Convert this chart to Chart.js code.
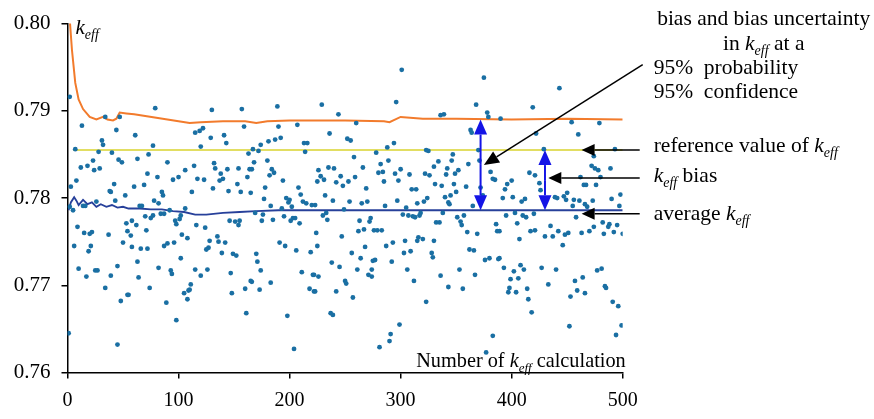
<!DOCTYPE html>
<html><head><meta charset="utf-8">
<script src="https://cdn.jsdelivr.net/npm/chart.js@4.4.0/dist/chart.umd.min.js"></script>
<style>html,body{margin:0;padding:0;background:#fff}#wrap{width:874px;height:419px}</style>
</head><body><div id="wrap"><canvas id="c" width="874" height="419"></canvas></div>
<script>
const xTicks = [0, 100, 200, 300, 400, 500];
const yTicks = [0.76, 0.77, 0.78, 0.79, 0.80];

// [number of calculation, keff]
const keffCalcs = [
[2,0.7916],[13,0.7883],[34,0.7893],[47,0.7893],[44,0.7878],[7,0.7856],[31,0.7866],[32,0.7861],[28,0.7853],[40,0.7852],[46,0.7844],[49,0.7841],[23,0.7843],[18,0.7837],[12,0.7835],[24,0.7832],[29,0.7834],[8,0.7820],[3,0.7813],[42,0.7816],[38,0.7808],[39,0.7807],[52,0.7803],[2,0.7790],[5,0.7786],[14,0.7791],[16,0.7791],[26,0.7796],[43,0.7797],[9,0.7767],[15,0.7760],[20,0.7759],[22,0.7761],[37,0.7758],[53,0.7771],[50,0.7749],[6,0.7745],[21,0.7745],[19,0.7739],[10,0.7719],[17,0.7710],[25,0.7717],[27,0.7717],[45,0.7722],[39,0.7711],[34,0.7697],[54,0.7689],[48,0.7682],[1,0.7645],[45,0.7632],
[79,0.7903],[61,0.7872],[77,0.7860],[73,0.7850],[63,0.7845],[90,0.7841],[106,0.7832],[72,0.7828],[81,0.7824],[95,0.7821],[100,0.7824],[60,0.7813],[69,0.7815],[85,0.7807],[86,0.7803],[78,0.7797],[82,0.7794],[65,0.7791],[67,0.7791],[84,0.7782],[87,0.7782],[92,0.7786],[70,0.7779],[58,0.7774],[62,0.7769],[77,0.7780],[75,0.7777],[102,0.7780],[101,0.7776],[106,0.7788],[54,0.7762],[57,0.7757],[97,0.7774],[98,0.7770],[103,0.7758],[108,0.7754],[71,0.7763],[58,0.7744],[66,0.7742],[72,0.7742],[87,0.7745],[90,0.7748],[96,0.7749],[102,0.7731],[63,0.7727],[82,0.7720],[93,0.7717],[94,0.7713],[64,0.7709],[55,0.7689],[74,0.7697],[105,0.7691],[109,0.7694],[108,0.7684],[89,0.7680],[98,0.7660],
[130,0.7901],[157,0.7902],[159,0.7882],[122,0.7880],[119,0.7877],[115,0.7875],[141,0.7872],[129,0.7869],[143,0.7863],[120,0.7859],[163,0.7851],[114,0.7837],[132,0.7840],[133,0.7834],[138,0.7828],[144,0.7833],[154,0.7834],[164,0.7833],[117,0.7822],[123,0.7821],[137,0.7820],[140,0.7822],[162,0.7824],[112,0.7807],[131,0.7811],[145,0.7808],[153,0.7816],[156,0.7807],[165,0.7806],[146,0.7774],[151,0.7773],[155,0.7774],[154,0.7769],[116,0.7769],[124,0.7766],[135,0.7756],[128,0.7751],[136,0.7750],[142,0.7749],[127,0.7743],[125,0.7741],[139,0.7737],[149,0.7736],[152,0.7734],[115,0.7718],[126,0.7718],[120,0.7711],[147,0.7714],[111,0.7701],[110,0.7695],[166,0.7704],[160,0.7696],[148,0.7691],[161,0.7668],
[189,0.7905],[190,0.7882],[207,0.7884],[192,0.7869],[187,0.7867],[181,0.7865],[174,0.7861],[167,0.7856],[172,0.7854],[213,0.7863],[216,0.7863],[214,0.7853],[168,0.7841],[180,0.7843],[184,0.7833],[186,0.7829],[166,0.7833],[182,0.7826],[194,0.7820],[178,0.7812],[208,0.7812],[210,0.7804],[197,0.7800],[200,0.7798],[199,0.7795],[202,0.7790],[212,0.7796],[215,0.7794],[220,0.7792],[177,0.7799],[183,0.7791],[193,0.7788],[195,0.7779],[169,0.7783],[176,0.7781],[175,0.7774],[185,0.7775],[201,0.7774],[203,0.7777],[205,0.7777],[209,0.7771],[191,0.7749],[196,0.7745],[206,0.7740],[219,0.7738],[170,0.7736],[171,0.7727],[174,0.7717],[211,0.7715],[221,0.7712],[165,0.7705],[183,0.7703],[173,0.7695],[218,0.7696],[222,0.7693],[198,0.7665],[204,0.7627],
[229,0.7907],[244,0.7896],[260,0.7886],[236,0.7874],[252,0.7868],[255,0.7866],[258,0.7847],[266,0.7835],[226,0.7832],[235,0.7835],[240,0.7834],[228,0.7825],[231,0.7821],[225,0.7819],[246,0.7825],[242,0.7818],[248,0.7814],[253,0.7819],[259,0.7824],[269,0.7811],[232,0.7803],[239,0.7797],[254,0.7796],[265,0.7794],[270,0.7796],[223,0.7792],[249,0.7787],[230,0.7780],[233,0.7783],[234,0.7775],[263,0.7774],[273,0.7777],[272,0.7773],[224,0.7760],[247,0.7756],[262,0.7762],[267,0.7764],[276,0.7763],[225,0.7745],[268,0.7744],[256,0.7737],[264,0.7731],[275,0.7728],[238,0.7726],[245,0.7721],[261,0.7718],[274,0.7718],[271,0.7712],[274,0.7710],[222,0.7712],[226,0.7710],[250,0.7705],[251,0.7702],[223,0.7693],[242,0.7693],[257,0.7686],[237,0.7668],[239,0.7666],
[301,0.7947],[296,0.7910],[294,0.7863],[288,0.7858],[278,0.7852],[323,0.7855],[325,0.7854],[282,0.7839],[289,0.7843],[280,0.7829],[284,0.7830],[295,0.7828],[300,0.7833],[308,0.7827],[322,0.7828],[326,0.7826],[330,0.7836],[331,0.7816],[285,0.7819],[298,0.7820],[310,0.7810],[314,0.7810],[324,0.7800],[321,0.7796],[315,0.7794],[297,0.7797],[286,0.7791],[305,0.7789],[311,0.7779],[318,0.7783],[317,0.7780],[313,0.7778],[302,0.7781],[307,0.7780],[332,0.7772],[279,0.7763],[283,0.7763],[316,0.7755],[293,0.7749],[304,0.7751],[315,0.7751],[320,0.7753],[330,0.7751],[287,0.7745],[303,0.7737],[309,0.7739],[328,0.7737],[329,0.7732],[277,0.7729],[292,0.7727],[306,0.7718],[312,0.7705],[323,0.7681],[299,0.7655],[291,0.7644],[290,0.7636],[281,0.7629],
[375,0.7938],[368,0.7907],[336,0.7895],[339,0.7896],[378,0.7898],[379,0.7893],[363,0.7878],[364,0.7875],[370,0.7855],[347,0.7850],[346,0.7843],[371,0.7843],[334,0.7842],[361,0.7839],[381,0.7830],[342,0.7834],[352,0.7832],[349,0.7828],[341,0.7827],[385,0.7821],[383,0.7822],[337,0.7814],[348,0.7816],[359,0.7813],[372,0.7812],[350,0.7807],[345,0.7803],[340,0.7801],[343,0.7795],[344,0.7793],[374,0.7803],[365,0.7791],[338,0.7783],[335,0.7772],[351,0.7778],[354,0.7773],[355,0.7769],[357,0.7780],[360,0.7761],[369,0.7759],[386,0.7770],[387,0.7762],[362,0.7741],[366,0.7740],[376,0.7729],[380,0.7731],[388,0.7730],[353,0.7718],[336,0.7711],[367,0.7712],[343,0.7698],[356,0.7696],[383,0.7642],[377,0.7623],
[443,0.7926],[419,0.7904],[390,0.7891],[422,0.7874],[429,0.7856],[416,0.7829],[400,0.7820],[396,0.7816],[394,0.7810],[392,0.7800],[401,0.7801],[409,0.7796],[412,0.7799],[421,0.7826],[425,0.7817],[439,0.7801],[441,0.7800],[426,0.7809],[410,0.7780],[413,0.7778],[420,0.7782],[403,0.7783],[395,0.7780],[405,0.7771],[417,0.7762],[421,0.7763],[435,0.7768],[389,0.7762],[442,0.7762],[407,0.7753],[430,0.7756],[437,0.7756],[389,0.7731],[393,0.7720],[402,0.7716],[411,0.7718],[408,0.7723],[427,0.7720],[440,0.7718],[399,0.7707],[406,0.7708],[398,0.7697],[414,0.7696],[397,0.7692],[404,0.7692],[433,0.7701],[415,0.7684],[418,0.7669],
[454,0.7887],[479,0.7886],[460,0.7873],[493,0.7856],[474,0.7848],[472,0.7837],[475,0.7834],[478,0.7832],[489,0.7834],[462,0.7824],[480,0.7824],[465,0.7815],[467,0.7815],[476,0.7815],[450,0.7806],[447,0.7802],[449,0.7798],[456,0.7798],[461,0.7797],[466,0.7793],[473,0.7797],[455,0.7791],[468,0.7790],[490,0.7799],[498,0.7804],[497,0.7791],[482,0.7772],[488,0.7770],[487,0.7767],[458,0.7778],[451,0.7760],[448,0.7758],[463,0.7760],[470,0.7762],[474,0.7767],[483,0.7759],[492,0.7761],[495,0.7769],[500,0.7759],[446,0.7746],[477,0.7717],[481,0.7719],[457,0.7705],[464,0.7709],[484,0.7699],[485,0.7697],[459,0.7694],[466,0.7691],[453,0.7687],[491,0.7681],[496,0.7676],[452,0.7653],[499,0.7654],[494,0.7643]
];

const upperX = [1,2,4,7,10,14,20,26,32,36,41,44,47,53,60,70,80,90,100,110,120,140,160,170,180,200,250,285,290,300,320,350,400,450,500];
const upperY = [0.8025,0.8005,0.7970,0.7932,0.7913,0.7902,0.7893,0.7890,0.7893,0.7890,0.7889,0.7891,0.7898,0.7897,0.7896,0.7894,0.7892,0.7890,0.7888,0.7886,0.7887,0.7888,0.7888,0.7886,0.7888,0.7889,0.7889,0.7888,0.7887,0.7893,0.7891,0.7891,0.7890,0.7891,0.7890];

const refX = [5, 500];
const refValue = 0.7855;

const avgX = [1,3,6,8,10,14,18,22,26,30,35,40,45,50,55,65,75,85,95,105,115,125,140,155,170,190,210,250,300,350,400,450,500];
const avgY = [0.7786,0.7795,0.7801,0.7797,0.7792,0.7798,0.7793,0.7795,0.7790,0.7793,0.7790,0.7792,0.7789,0.7790,0.7788,0.7788,0.7787,0.7787,0.7785,0.7784,0.7781,0.7781,0.7783,0.7784,0.7785,0.7786,0.7786,0.7786,0.7786,0.7786,0.7786,0.7786,0.7786];

// annotation anchors (data values)
const uncertArrow = {x: 372, top: 0.7890, bottom: 0.7786};
const biasArrow = {x: 430, top: 0.7855, bottom: 0.7786};

const SERIF = "'Liberation Serif', 'Times New Roman', serif";

function richText(ctx, parts, x, y, align, size) {
  size = size || 21;
  const sub = Math.round(size * 0.66);
  const fontOf = s => (s === 'n' ? '' : 'italic ') + (s === 's' ? sub : size) + 'px ' + SERIF;
  let total = 0;
  parts.forEach(p => { ctx.font = fontOf(p[1]); total += ctx.measureText(p[0]).width; });
  let cx = align === 'center' ? x - total / 2 : (align === 'right' ? x - total : x);
  ctx.textAlign = 'left';
  ctx.textBaseline = 'alphabetic';
  parts.forEach(p => {
    ctx.font = fontOf(p[1]);
    ctx.fillText(p[0], cx, p[1] === 's' ? y + 5 : y);
    cx += ctx.measureText(p[0]).width;
  });
}

function arrow(ctx, x1, y1, x2, y2, color, lw, hl, hw) {
  const ang = Math.atan2(y2 - y1, x2 - x1);
  const bx = x2 - hl * Math.cos(ang), by = y2 - hl * Math.sin(ang);
  ctx.strokeStyle = color; ctx.fillStyle = color; ctx.lineWidth = lw;
  ctx.beginPath(); ctx.moveTo(x1, y1); ctx.lineTo(bx, by); ctx.stroke();
  ctx.beginPath();
  ctx.moveTo(x2, y2);
  ctx.lineTo(bx + hw * Math.sin(ang), by - hw * Math.cos(ang));
  ctx.lineTo(bx - hw * Math.sin(ang), by + hw * Math.cos(ang));
  ctx.closePath(); ctx.fill();
}

function doubleArrow(ctx, x, yTop, yBot, color) {
  const mid = (yTop + yBot) / 2;
  arrow(ctx, x, mid, x, yTop, color, 2, 15, 6.5);
  arrow(ctx, x, mid, x, yBot, color, 2, 15, 6.5);
}

const annot = {
  id: 'annot',
  afterDraw(chart) {
    const {ctx, chartArea: a, scales: {x, y}} = chart;
    ctx.save();
    const blue = '#1414e6';
    doubleArrow(ctx, x.getPixelForValue(uncertArrow.x), y.getPixelForValue(uncertArrow.top), y.getPixelForValue(uncertArrow.bottom), blue);
    doubleArrow(ctx, x.getPixelForValue(biasArrow.x), y.getPixelForValue(biasArrow.top), y.getPixelForValue(biasArrow.bottom), blue);

    const tailX = a.right + 17;
    arrow(ctx, a.right + 20, y.getPixelForValue(0.7953), x.getPixelForValue(375), y.getPixelForValue(0.7838), '#000', 1.5, 15, 6.5);
    arrow(ctx, tailX, y.getPixelForValue(refValue), x.getPixelForValue(463), y.getPixelForValue(refValue), '#000', 1.5, 13, 6);
    arrow(ctx, tailX, y.getPixelForValue(0.7823), x.getPixelForValue(433), y.getPixelForValue(0.7823), '#000', 1.5, 13, 6);
    arrow(ctx, tailX, y.getPixelForValue(0.7782), x.getPixelForValue(463), y.getPixelForValue(0.7782), '#000', 1.5, 13, 6);

    ctx.fillStyle = '#000';
    const cx = a.right + 141;
    const lx = a.right + 31;
    richText(ctx, [['bias and bias uncertainty', 'n']], cx, 25, 'center', 21.5);
    richText(ctx, [['in ', 'n'], ['k', 'i'], ['eff', 's'], [' at a', 'n']], cx, 50, 'center', 21.5);
    richText(ctx, [['95%  probability', 'n']], lx, 74, 'left', 21.5);
    richText(ctx, [['95%  confidence', 'n']], lx, 98, 'left', 21.5);
    richText(ctx, [['reference value of ', 'n'], ['k', 'i'], ['eff', 's']], lx, 152, 'left', 21.5);
    richText(ctx, [['k', 'i'], ['eff', 's'], [' bias', 'n']], lx, 182, 'left', 21.5);
    richText(ctx, [['average ', 'n'], ['k', 'i'], ['eff', 's']], lx, 220, 'left', 21.5);

    richText(ctx, [['k', 'i'], ['eff', 's']], a.left + 8, a.top + 10, 'left', 21);
    richText(ctx, [['Number of ', 'n'], ['k', 'i'], ['eff', 's'], [' calculation', 'n']], a.right + 3, a.bottom - 6, 'right', 20.3);
    ctx.restore();
  }
};

new Chart(document.getElementById('c'), {
  type: 'scatter',
  data: {
    datasets: [
      {label: 'keff', data: keffCalcs.map(p => ({x: p[0], y: p[1]})), pointRadius: 2.4, pointBackgroundColor: '#1a6fa3', pointBorderWidth: 0, showLine: false, order: 0},
      {label: 'upper', data: upperX.map((v, i) => ({x: v, y: upperY[i]})), showLine: true, borderColor: '#f27b2c', borderWidth: 2, pointRadius: 0, order: 1},
      {label: 'reference', data: refX.map(v => ({x: v, y: refValue})), showLine: true, borderColor: '#e2de62', borderWidth: 2, pointRadius: 0, order: 2},
      {label: 'average', data: avgX.map((v, i) => ({x: v, y: avgY[i]})), showLine: true, borderColor: '#27409a', borderWidth: 1.8, pointRadius: 0, order: 1}
    ]
  },
  options: {
    responsive: false,
    animation: false,
    events: [],
    layout: {padding: {top: 16, right: 251.3, left: 0, bottom: 0}},
    plugins: {legend: {display: false}, tooltip: {enabled: false}},
    scales: {
      x: {
        type: 'linear', min: 0, max: 500,
        afterBuildTicks: s => { s.ticks = xTicks.map(v => ({value: v})); },
        afterFit: s => { s.height = 46.5; },
        ticks: {font: {family: SERIF, size: 20}, color: '#000', padding: 10, maxRotation: 0, callback: v => String(v)},
        grid: {drawOnChartArea: false, drawTicks: true, tickLength: 6, color: '#000', lineWidth: 1.5},
        border: {display: true, color: '#000', width: 1.5}
      },
      y: {
        type: 'linear', min: 0.76, max: 0.80,
        afterBuildTicks: s => { s.ticks = yTicks.map(v => ({value: v})); },
        afterFit: s => { s.width = 67.5; },
        ticks: {font: {family: SERIF, size: 21}, color: '#000', padding: 11, callback: v => v.toFixed(2)},
        grid: {drawOnChartArea: false, drawTicks: true, tickLength: 6, color: '#000', lineWidth: 1.5},
        border: {display: true, color: '#000', width: 1.5}
      }
    }
  },
  plugins: [annot]
});
</script>
</body></html>
